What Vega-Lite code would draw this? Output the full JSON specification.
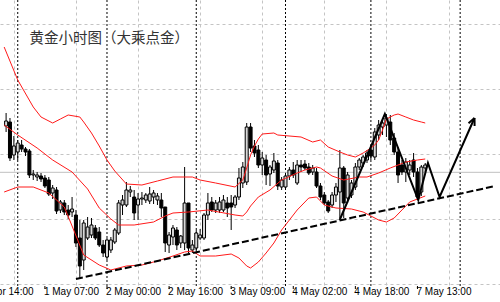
{
  "$schema": "https://vega.github.io/schema/vega-lite/v6.json",
  "width": 500,
  "height": 286,
  "autosize": {"type": "none"},
  "padding": {"left": 0, "top": 0, "right": 0, "bottom": 16},
  "background": "white",
  "config": {"view": {"stroke": null}},
  "datasets": {
    "candles": [
      {"t":-3,"o":1313.70,"h":1314.35,"l":1313.40,"c":1313.95},
      {"t":-2,"o":1313.90,"h":1314.10,"l":1311.95,"c":1312.10},
      {"t":-1,"o":1312.25,"h":1313.20,"l":1312.00,"c":1312.70},
      {"t":0,"o":1312.40,"h":1313.00,"l":1312.00,"c":1312.85},
      {"t":1,"o":1312.75,"h":1313.00,"l":1312.40,"c":1312.55},
      {"t":2,"o":1312.55,"h":1312.65,"l":1312.20,"c":1312.40},
      {"t":3,"o":1312.45,"h":1312.55,"l":1311.10,"c":1311.25},
      {"t":4,"o":1311.25,"h":1311.50,"l":1311.00,"c":1311.30},
      {"t":5,"o":1311.15,"h":1311.40,"l":1310.95,"c":1311.25},
      {"t":6,"o":1311.20,"h":1311.35,"l":1310.90,"c":1311.05},
      {"t":7,"o":1311.10,"h":1311.25,"l":1310.60,"c":1310.70},
      {"t":8,"o":1311.00,"h":1311.15,"l":1310.20,"c":1310.30},
      {"t":9,"o":1310.35,"h":1310.75,"l":1310.05,"c":1310.60},
      {"t":10,"o":1310.50,"h":1310.65,"l":1309.30,"c":1309.45},
      {"t":11,"o":1309.50,"h":1310.00,"l":1309.35,"c":1309.90},
      {"t":12,"o":1309.85,"h":1310.00,"l":1309.25,"c":1309.40},
      {"t":13,"o":1309.50,"h":1309.75,"l":1309.05,"c":1309.25},
      {"t":14,"o":1309.40,"h":1310.15,"l":1309.15,"c":1309.55},
      {"t":15,"o":1309.25,"h":1309.50,"l":1307.65,"c":1307.85},
      {"t":16,"o":1308.10,"h":1309.00,"l":1306.10,"c":1306.70},
      {"t":17,"o":1307.00,"h":1309.00,"l":1306.50,"c":1308.85},
      {"t":18,"o":1308.10,"h":1309.15,"l":1308.00,"c":1308.65},
      {"t":19,"o":1308.25,"h":1309.10,"l":1308.10,"c":1308.75},
      {"t":20,"o":1308.60,"h":1308.75,"l":1308.00,"c":1308.10},
      {"t":21,"o":1308.40,"h":1308.65,"l":1307.65,"c":1307.75},
      {"t":22,"o":1307.75,"h":1308.00,"l":1307.15,"c":1307.35},
      {"t":23,"o":1307.15,"h":1308.10,"l":1307.00,"c":1308.00},
      {"t":24,"o":1307.50,"h":1308.15,"l":1307.35,"c":1308.00},
      {"t":25,"o":1307.90,"h":1308.60,"l":1307.80,"c":1308.50},
      {"t":26,"o":1308.35,"h":1310.00,"l":1308.25,"c":1309.85},
      {"t":27,"o":1309.75,"h":1310.25,"l":1309.25,"c":1310.00},
      {"t":28,"o":1309.75,"h":1310.90,"l":1309.65,"c":1310.50},
      {"t":29,"o":1310.40,"h":1310.70,"l":1310.15,"c":1310.50},
      {"t":30,"o":1310.15,"h":1310.50,"l":1309.00,"c":1309.35},
      {"t":31,"o":1309.75,"h":1310.35,"l":1309.00,"c":1310.05},
      {"t":32,"o":1310.05,"h":1310.40,"l":1309.75,"c":1310.10},
      {"t":33,"o":1310.00,"h":1310.35,"l":1309.85,"c":1310.25},
      {"t":34,"o":1309.95,"h":1310.65,"l":1309.80,"c":1310.30},
      {"t":35,"o":1310.15,"h":1310.50,"l":1309.80,"c":1310.35},
      {"t":36,"o":1310.00,"h":1310.35,"l":1309.75,"c":1310.20},
      {"t":37,"o":1310.00,"h":1310.35,"l":1309.15,"c":1309.60},
      {"t":38,"o":1309.65,"h":1309.65,"l":1307.40,"c":1307.85},
      {"t":39,"o":1307.75,"h":1308.40,"l":1307.35,"c":1308.25},
      {"t":40,"o":1308.15,"h":1308.75,"l":1307.75,"c":1308.60},
      {"t":41,"o":1308.50,"h":1308.65,"l":1307.50,"c":1307.75},
      {"t":42,"o":1307.85,"h":1308.25,"l":1307.60,"c":1308.20},
      {"t":43,"o":1307.85,"h":1311.65,"l":1307.50,"c":1309.85},
      {"t":44,"o":1309.85,"h":1309.85,"l":1307.35,"c":1307.60},
      {"t":45,"o":1307.50,"h":1308.00,"l":1307.35,"c":1307.75},
      {"t":46,"o":1307.60,"h":1308.50,"l":1307.40,"c":1308.35},
      {"t":47,"o":1308.10,"h":1308.55,"l":1308.00,"c":1308.25},
      {"t":48,"o":1308.10,"h":1309.35,"l":1308.00,"c":1309.25},
      {"t":49,"o":1309.25,"h":1310.35,"l":1309.00,"c":1309.85},
      {"t":50,"o":1309.90,"h":1310.15,"l":1309.40,"c":1309.50},
      {"t":51,"o":1309.50,"h":1310.00,"l":1309.35,"c":1309.85},
      {"t":52,"o":1309.50,"h":1310.15,"l":1309.35,"c":1309.90},
      {"t":53,"o":1309.50,"h":1310.25,"l":1309.40,"c":1310.00},
      {"t":54,"o":1309.85,"h":1310.15,"l":1309.15,"c":1309.60},
      {"t":55,"o":1309.85,"h":1310.25,"l":1308.50,"c":1309.65},
      {"t":56,"o":1309.75,"h":1310.25,"l":1309.60,"c":1310.15},
      {"t":57,"o":1310.15,"h":1311.60,"l":1310.00,"c":1311.10},
      {"t":58,"o":1310.85,"h":1311.90,"l":1310.60,"c":1311.65},
      {"t":59,"o":1310.90,"h":1313.85,"l":1310.75,"c":1313.65},
      {"t":60,"o":1313.65,"h":1313.85,"l":1312.40,"c":1312.60},
      {"t":61,"o":1312.70,"h":1313.00,"l":1312.15,"c":1312.35},
      {"t":62,"o":1312.50,"h":1312.75,"l":1311.60,"c":1311.75},
      {"t":63,"o":1311.75,"h":1312.40,"l":1311.25,"c":1312.10},
      {"t":64,"o":1312.00,"h":1312.25,"l":1310.75,"c":1311.25},
      {"t":65,"o":1311.30,"h":1311.75,"l":1310.70,"c":1311.65},
      {"t":66,"o":1311.50,"h":1312.35,"l":1311.35,"c":1311.95},
      {"t":67,"o":1311.85,"h":1312.00,"l":1310.50,"c":1310.70},
      {"t":68,"o":1310.65,"h":1311.15,"l":1310.50,"c":1311.00},
      {"t":69,"o":1310.65,"h":1311.35,"l":1310.55,"c":1311.20},
      {"t":70,"o":1311.20,"h":1311.65,"l":1311.00,"c":1311.50},
      {"t":71,"o":1311.50,"h":1311.90,"l":1311.10,"c":1311.25},
      {"t":72,"o":1310.85,"h":1312.00,"l":1310.75,"c":1311.75},
      {"t":73,"o":1311.75,"h":1312.00,"l":1311.40,"c":1311.65},
      {"t":74,"o":1311.80,"h":1312.00,"l":1311.50,"c":1311.60},
      {"t":75,"o":1311.65,"h":1311.85,"l":1311.25,"c":1311.35},
      {"t":76,"o":1311.40,"h":1311.75,"l":1311.25,"c":1311.60},
      {"t":77,"o":1311.40,"h":1311.60,"l":1310.60,"c":1310.70},
      {"t":78,"o":1310.70,"h":1310.85,"l":1310.00,"c":1310.15},
      {"t":79,"o":1310.25,"h":1310.40,"l":1309.75,"c":1309.85},
      {"t":80,"o":1309.90,"h":1310.00,"l":1309.35,"c":1309.45},
      {"t":81,"o":1309.75,"h":1310.40,"l":1309.60,"c":1310.25},
      {"t":82,"o":1310.25,"h":1310.85,"l":1309.90,"c":1310.65},
      {"t":83,"o":1310.40,"h":1312.50,"l":1309.10,"c":1311.60},
      {"t":84,"o":1311.60,"h":1311.70,"l":1309.10,"c":1309.85},
      {"t":85,"o":1310.10,"h":1311.40,"l":1309.85,"c":1311.25},
      {"t":86,"o":1310.25,"h":1311.00,"l":1310.10,"c":1310.85},
      {"t":87,"o":1310.65,"h":1311.85,"l":1310.50,"c":1311.65},
      {"t":88,"o":1311.65,"h":1312.10,"l":1311.50,"c":1312.00},
      {"t":89,"o":1311.85,"h":1312.25,"l":1311.65,"c":1312.15},
      {"t":90,"o":1312.00,"h":1312.50,"l":1311.85,"c":1312.35},
      {"t":91,"o":1312.50,"h":1312.75,"l":1312.00,"c":1312.20},
      {"t":92,"o":1312.15,"h":1313.60,"l":1312.00,"c":1313.40},
      {"t":93,"o":1313.25,"h":1314.00,"l":1313.00,"c":1313.75},
      {"t":94,"o":1313.65,"h":1314.05,"l":1313.25,"c":1313.85},
      {"t":95,"o":1313.75,"h":1314.30,"l":1313.15,"c":1314.10},
      {"t":96,"o":1313.90,"h":1314.25,"l":1312.75,"c":1313.00},
      {"t":97,"o":1313.10,"h":1313.35,"l":1312.25,"c":1312.40},
      {"t":98,"o":1312.40,"h":1312.65,"l":1310.85,"c":1311.25},
      {"t":99,"o":1311.75,"h":1312.00,"l":1311.25,"c":1311.40},
      {"t":100,"o":1311.40,"h":1312.10,"l":1310.90,"c":1311.90},
      {"t":101,"o":1311.50,"h":1312.00,"l":1311.25,"c":1311.75},
      {"t":102,"o":1312.00,"h":1312.35,"l":1311.15,"c":1311.40},
      {"t":103,"o":1311.40,"h":1311.60,"l":1310.00,"c":1310.15},
      {"t":104,"o":1310.40,"h":1311.75,"l":1310.20,"c":1311.65},
      {"t":105,"o":1311.60,"h":1311.85,"l":1311.40,"c":1311.75}
    ],
    "bands": [
      {"band":"upper","t":-3.5,"p":1317.65},{"band":"upper","t":0,"p":1316.00},{"band":"upper","t":4,"p":1314.65},
      {"band":"upper","t":6,"p":1314.15},{"band":"upper","t":9,"p":1313.85},{"band":"upper","t":11,"p":1314.05},
      {"band":"upper","t":13,"p":1314.25},{"band":"upper","t":16,"p":1314.15},{"band":"upper","t":17,"p":1313.90},
      {"band":"upper","t":19,"p":1313.35},{"band":"upper","t":21,"p":1312.70},{"band":"upper","t":23,"p":1312.00},
      {"band":"upper","t":25,"p":1311.45},{"band":"upper","t":28,"p":1310.80},{"band":"upper","t":32,"p":1310.75},
      {"band":"upper","t":36,"p":1310.95},{"band":"upper","t":40,"p":1311.15},{"band":"upper","t":45,"p":1311.15},
      {"band":"upper","t":47,"p":1311.00},{"band":"upper","t":51,"p":1310.85},{"band":"upper","t":56,"p":1310.65},
      {"band":"upper","t":58,"p":1311.00},{"band":"upper","t":59,"p":1311.60},{"band":"upper","t":60,"p":1312.25},
      {"band":"upper","t":61,"p":1312.70},{"band":"upper","t":62,"p":1313.05},{"band":"upper","t":63,"p":1313.30},
      {"band":"upper","t":66,"p":1313.35},{"band":"upper","t":67,"p":1313.25},{"band":"upper","t":73,"p":1313.15},
      {"band":"upper","t":76,"p":1312.90},{"band":"upper","t":78,"p":1313.00},{"band":"upper","t":80,"p":1312.65},
      {"band":"upper","t":83,"p":1312.40},{"band":"upper","t":85,"p":1312.25},{"band":"upper","t":87,"p":1312.15},
      {"band":"upper","t":89,"p":1312.35},{"band":"upper","t":91,"p":1312.60},{"band":"upper","t":92,"p":1312.75},
      {"band":"upper","t":93,"p":1313.00},{"band":"upper","t":94,"p":1313.50},{"band":"upper","t":95,"p":1314.05},
      {"band":"upper","t":97,"p":1314.25},{"band":"upper","t":98,"p":1314.30},{"band":"upper","t":100,"p":1314.15},
      {"band":"upper","t":102,"p":1314.00},{"band":"upper","t":104,"p":1313.90},{"band":"upper","t":105,"p":1313.85},
      {"band":"middle","t":-3.5,"p":1313.75},{"band":"middle","t":0,"p":1313.25},{"band":"middle","t":5,"p":1312.60},
      {"band":"middle","t":9,"p":1312.00},{"band":"middle","t":14,"p":1311.40},{"band":"middle","t":18,"p":1310.55},
      {"band":"middle","t":21,"p":1309.60},{"band":"middle","t":24,"p":1309.05},{"band":"middle","t":26,"p":1308.75},
      {"band":"middle","t":30,"p":1308.75},{"band":"middle","t":35,"p":1308.90},{"band":"middle","t":38,"p":1309.20},
      {"band":"middle","t":40,"p":1309.35},{"band":"middle","t":44,"p":1309.40},{"band":"middle","t":49,"p":1309.50},
      {"band":"middle","t":56,"p":1309.25},{"band":"middle","t":58,"p":1309.20},{"band":"middle","t":59,"p":1309.40},
      {"band":"middle","t":60,"p":1309.70},{"band":"middle","t":62,"p":1310.15},{"band":"middle","t":65,"p":1310.50},
      {"band":"middle","t":68,"p":1311.00},{"band":"middle","t":72,"p":1311.35},{"band":"middle","t":74,"p":1311.50},
      {"band":"middle","t":77,"p":1311.65},{"band":"middle","t":78,"p":1311.60},{"band":"middle","t":81,"p":1311.20},
      {"band":"middle","t":84,"p":1311.00},{"band":"middle","t":88,"p":1311.15},{"band":"middle","t":90,"p":1311.15},
      {"band":"middle","t":93,"p":1311.35},{"band":"middle","t":96,"p":1311.60},{"band":"middle","t":100,"p":1311.90},
      {"band":"middle","t":103,"p":1312.00},{"band":"middle","t":105,"p":1312.05},
      {"band":"lower","t":-3.5,"p":1310.40},{"band":"lower","t":0,"p":1310.65},{"band":"lower","t":4,"p":1310.65},
      {"band":"lower","t":8,"p":1310.35},{"band":"lower","t":12,"p":1309.65},{"band":"lower","t":14,"p":1308.70},
      {"band":"lower","t":17,"p":1307.25},{"band":"lower","t":21,"p":1306.75},{"band":"lower","t":24,"p":1306.50},
      {"band":"lower","t":28,"p":1306.70},{"band":"lower","t":32,"p":1306.75},{"band":"lower","t":36,"p":1306.95},
      {"band":"lower","t":40,"p":1307.20},{"band":"lower","t":43,"p":1307.40},{"band":"lower","t":45,"p":1307.45},
      {"band":"lower","t":47,"p":1307.20},{"band":"lower","t":51,"p":1307.20},{"band":"lower","t":55,"p":1307.30},
      {"band":"lower","t":57,"p":1307.10},{"band":"lower","t":59,"p":1306.70},{"band":"lower","t":60,"p":1306.60},
      {"band":"lower","t":62,"p":1306.90},{"band":"lower","t":64,"p":1307.35},{"band":"lower","t":66,"p":1307.85},
      {"band":"lower","t":68,"p":1308.50},{"band":"lower","t":70,"p":1309.00},{"band":"lower","t":72,"p":1309.50},
      {"band":"lower","t":75,"p":1310.10},{"band":"lower","t":77,"p":1310.15},{"band":"lower","t":79,"p":1309.75},
      {"band":"lower","t":82,"p":1309.60},{"band":"lower","t":86,"p":1309.55},{"band":"lower","t":89,"p":1309.40},
      {"band":"lower","t":91,"p":1309.20},{"band":"lower","t":93,"p":1309.00},{"band":"lower","t":95,"p":1308.90},
      {"band":"lower","t":97,"p":1309.10},{"band":"lower","t":99,"p":1309.50},{"band":"lower","t":101,"p":1309.90},
      {"band":"lower","t":103,"p":1310.05},{"band":"lower","t":105,"p":1310.20}
    ],
    "seps": [{"t":0},{"t":23},{"t":46},{"t":69},{"t":91},{"t":114}],
    "trend": [{"t":15,"p":1306.05},{"t":123,"p":1310.70}],
    "zig": [
      {"g":"path","t":82.95,"p":1309.00},{"g":"path","t":94.6,"p":1314.30},{"g":"path","t":103.2,"p":1310.00},
      {"g":"path","t":105.7,"p":1311.85},{"g":"path","t":108.7,"p":1310.15},{"g":"path","t":117.7,"p":1314.10},
      {"g":"head1","t":116.16,"p":1313.84},{"g":"head1","t":117.7,"p":1314.10},
      {"g":"head2","t":117.72,"p":1313.70},{"g":"head2","t":117.7,"p":1314.10}
    ],
    "xlabels": [
      {"t":7,"label":"1 May 07:00"},{"t":23,"label":"2 May 00:00"},{"t":39,"label":"2 May 16:00"},
      {"t":55,"label":"3 May 09:00"},{"t":71,"label":"4 May 02:00"},{"t":87,"label":"4 May 18:00"},
      {"t":103,"label":"7 May 13:00"}
    ]
  },
  "layer": [
    {
      "data": {"name": "seps"},
      "mark": {"type": "rule", "color": "#000", "strokeWidth": 1, "strokeDash": [2, 2]},
      "encoding": {
        "x": {
          "field": "t", "type": "quantitative", "title": null,
          "scale": {"domain": [-3.283, 122.98], "nice": false, "zero": false},
          "axis": {
            "values": [-1, 7, 15, 23, 31, 39, 47, 55, 63, 71, 79, 87, 95, 103, 111, 119],
            "grid": true, "gridColor": "#c4c4c4", "gridDash": [3, 3], "gridWidth": 1,
            "domain": false, "ticks": false, "labels": false, "title": null
          }
        }
      }
    },
    {
      "data": {"values": [{}]},
      "mark": {"type": "rule", "color": "#c0c0c0", "strokeWidth": 1},
      "encoding": {"y": {"datum": 1311.385, "type": "quantitative"}}
    },
    {
      "data": {"name": "candles"},
      "mark": {"type": "rule", "color": "#000", "strokeWidth": 1},
      "encoding": {
        "x": {"field": "t", "type": "quantitative", "title": null},
        "y": {
          "field": "l", "type": "quantitative", "title": null,
          "scale": {"domain": [1305.7, 1320], "nice": false, "zero": false},
          "axis": {
            "values": [1318.785, 1317.16, 1315.535, 1313.91, 1312.285, 1310.66, 1309.035, 1307.41, 1305.785],
            "grid": true, "gridColor": "#c4c4c4", "gridDash": [3, 3], "gridWidth": 1,
            "labels": false, "ticks": false, "domain": false, "title": null
          }
        },
        "y2": {"field": "h"}
      }
    },
    {
      "data": {"name": "candles"},
      "mark": {"type": "bar", "size": 3, "stroke": "#000", "strokeWidth": 1},
      "encoding": {
        "x": {"field": "t", "type": "quantitative", "title": null},
        "y": {"field": "o", "type": "quantitative", "title": null},
        "y2": {"field": "c"},
        "fill": {"condition": {"test": "datum.c < datum.o", "value": "#000"}, "value": "#d8d8d8"}
      }
    },
    {
      "data": {"name": "bands"},
      "mark": {"type": "line", "color": "#ff1a1a", "strokeWidth": 1, "clip": true},
      "encoding": {
        "x": {"field": "t", "type": "quantitative", "title": null},
        "y": {"field": "p", "type": "quantitative", "title": null},
        "detail": {"field": "band", "type": "nominal"}
      }
    },
    {
      "data": {"name": "trend"},
      "mark": {"type": "line", "color": "#000", "strokeWidth": 2, "strokeDash": [7, 3], "clip": true},
      "encoding": {
        "x": {"field": "t", "type": "quantitative", "title": null},
        "y": {"field": "p", "type": "quantitative", "title": null}
      }
    },
    {
      "data": {"name": "zig"},
      "mark": {"type": "line", "color": "#000", "strokeWidth": 2, "clip": true},
      "encoding": {
        "x": {"field": "t", "type": "quantitative", "title": null},
        "y": {"field": "p", "type": "quantitative", "title": null},
        "detail": {"field": "g", "type": "nominal"}
      }
    },
    {
      "data": {"values": [{}]},
      "mark": {"type": "text", "text": "黄金小时图（大乘点金）", "align": "left", "baseline": "middle", "font": "Noto Sans CJK SC", "fontSize": 14.5, "color": "#333333"},
      "encoding": {
        "x": {"datum": 3.03, "type": "quantitative"},
        "y": {"datum": 1318.05, "type": "quantitative"}
      }
    },
    {
      "data": {"name": "xlabels"},
      "mark": {"type": "rule", "color": "#000", "strokeWidth": 1},
      "encoding": {
        "x": {"field": "t", "type": "quantitative", "title": null},
        "y": {"datum": 1305.7, "type": "quantitative"},
        "y2": {"datum": 1305.55}
      }
    },
    {
      "data": {"name": "xlabels"},
      "mark": {"type": "text", "align": "left", "baseline": "top", "dx": -1, "font": "Liberation Sans", "fontSize": 10, "color": "#000"},
      "encoding": {
        "x": {"field": "t", "type": "quantitative", "title": null},
        "y": {"datum": 1305.65, "type": "quantitative"},
        "text": {"field": "label", "type": "nominal"}
      }
    },
    {
      "data": {"values": [{}]},
      "mark": {"type": "text", "text": "30 Apr 14:00", "align": "right", "baseline": "top", "font": "Liberation Sans", "fontSize": 10, "color": "#000"},
      "encoding": {
        "x": {"datum": 4.07, "type": "quantitative"},
        "y": {"datum": 1305.65, "type": "quantitative"}
      }
    }
  ]
}
